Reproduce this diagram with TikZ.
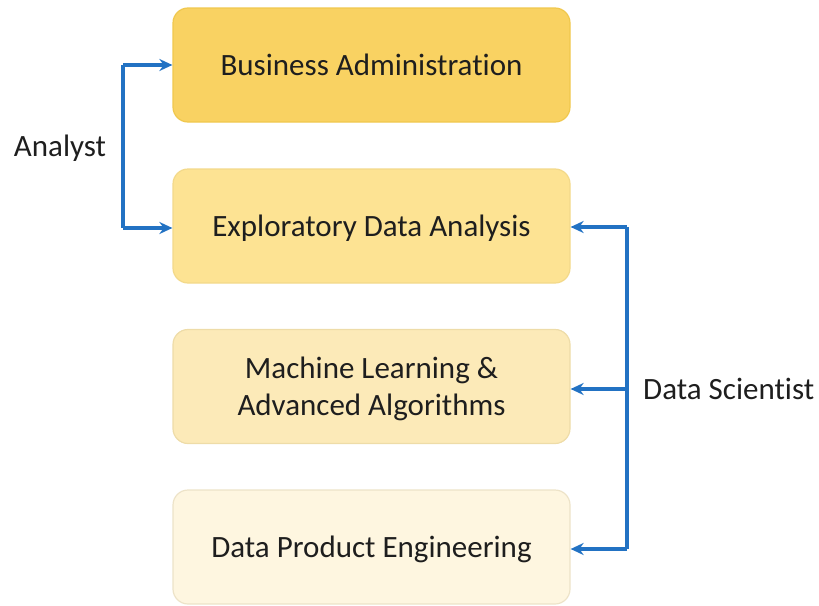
\documentclass[tikz,border=0pt]{standalone}
\usepackage{fontspec}
\setmainfont[Ligatures={NoCommon}]{Carlito}
\usetikzlibrary{arrows.meta}
\definecolor{fillA}{HTML}{F9D262}
\definecolor{fillB}{HTML}{FDE393}
\definecolor{fillC}{HTML}{FCEAB8}
\definecolor{fillD}{HTML}{FEF6E0}
\definecolor{edgeA}{HTML}{F0C84E}
\definecolor{edgeB}{HTML}{F3D98A}
\definecolor{edgeC}{HTML}{EEDCA8}
\definecolor{edgeD}{HTML}{EDE3C8}
\definecolor{arrowblue}{HTML}{2272C3}
\definecolor{txt}{HTML}{1E1E1E}
\begin{document}
\begin{tikzpicture}[x=1pt,y=-1pt,
  box/.style={rounded corners=15pt, minimum width=397pt, minimum height=114pt,
    line width=1.2pt, align=center, font=\fontsize{31}{37}\selectfont, text=txt, inner sep=0pt, text depth=0pt},
  conn/.style={draw=arrowblue, line width=3.4pt, -{Stealth[length=13pt,width=12pt]}},
  vline/.style={draw=arrowblue, line width=3.4pt},
  lbl/.style={font=\fontsize{31}{37}\selectfont, text=txt, inner sep=0pt}]
\useasboundingbox (0,0) rectangle (819,605);
\node[box, fill=fillA, draw=edgeA] (ba) at (371.5,65) {Business Administration};
\node[box, fill=fillB, draw=edgeB] (eda) at (371.5,226) {Exploratory Data Analysis};
\node[box, fill=fillC, draw=edgeC] (ml) at (371.5,386.5) {Machine Learning \&\\Advanced Algorithms};
\node[box, fill=fillD, draw=edgeD] (dpe) at (371.5,547) {Data Product Engineering};
\coordinate (l1) at (123,65);
\coordinate (l2) at (123,228);
\coordinate (r1) at (627,227);
\coordinate (r2) at (627,389);
\coordinate (r3) at (627,549);
\node[lbl] (analyst) at (60,148) {Analyst};
\node[lbl, anchor=west] (ds) at (643,389) {Data Scientist};
\draw[vline] (l1) -- (l2);
\draw[conn] (l1) -- (ba.west |- l1);
\draw[conn] (l2) -- (eda.west |- l2);
\draw[vline] (r1) -- (r3);
\draw[conn] (r1) -- (eda.east |- r1);
\draw[conn] (r2) -- (ml.east |- r2);
\draw[conn] (r3) -- (dpe.east |- r3);
\end{tikzpicture}
\end{document}
